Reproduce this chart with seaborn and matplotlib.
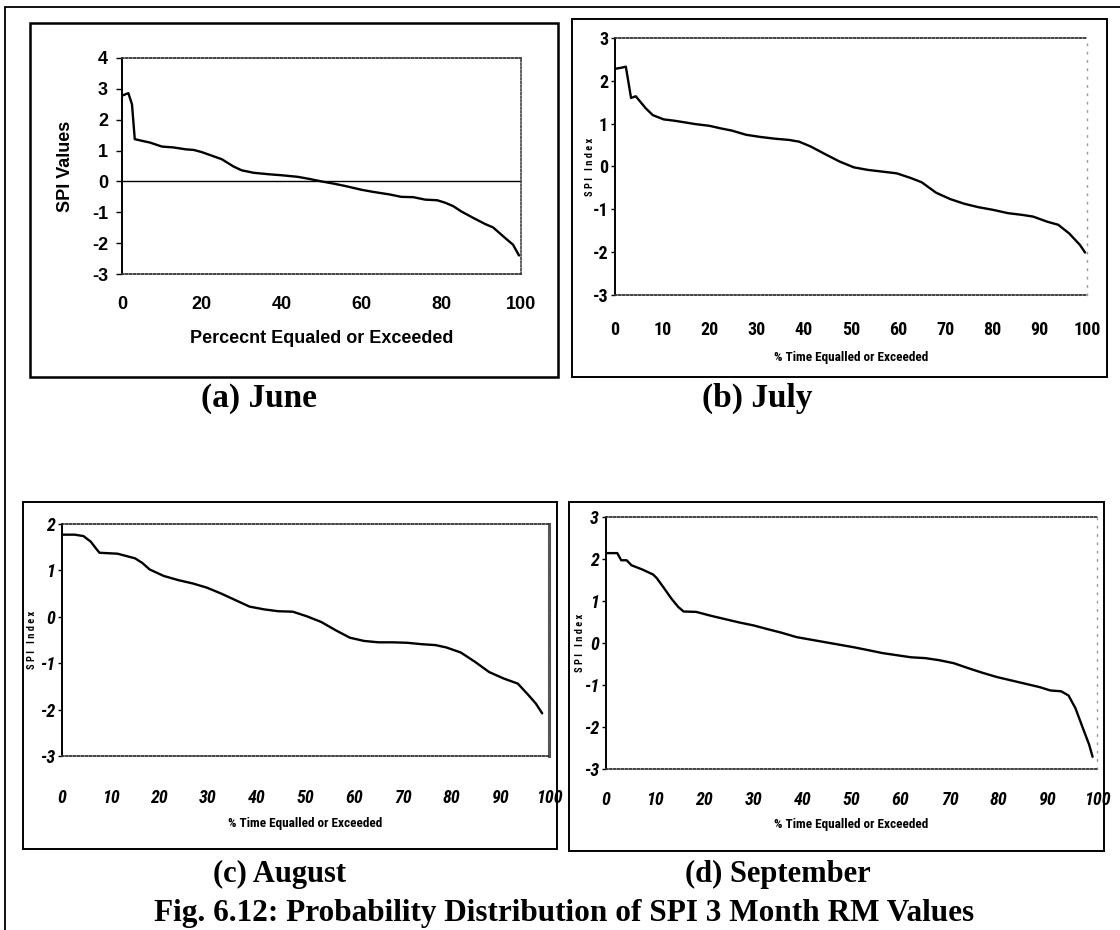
import numpy as np
import pandas as pd
import matplotlib
matplotlib.use("Agg")
import matplotlib.pyplot as plt
from matplotlib import font_manager
from matplotlib.patches import Rectangle
from matplotlib.lines import Line2D
import seaborn as sns

# ---------------------------------------------------------------------------
# SPI 3-month running-mean values vs. percent of time equalled or exceeded
# ---------------------------------------------------------------------------
june_pct = [0, 1.6, 2.5, 3.2, 5.2, 7, 10, 13, 16, 18, 20, 25, 28, 30, 33, 37,
            40, 44, 47, 50, 53, 56, 60, 63, 67, 70, 73, 76, 79, 81, 83, 85,
            88, 91, 93, 96, 98, 99.5]
june_spi = [2.78, 2.86, 2.5, 1.37, 1.31, 1.26, 1.13, 1.10, 1.04, 1.02, 0.95,
            0.72, 0.48, 0.36, 0.28, 0.23, 0.20, 0.15, 0.08, 0.0, -0.07, -0.15,
            -0.27, -0.34, -0.42, -0.50, -0.51, -0.59, -0.61, -0.69, -0.80,
            -0.97, -1.18, -1.38, -1.49, -1.83, -2.05, -2.40]

july_pct = [0, 1.5, 2.3, 3.4, 4.4, 6.5, 8, 10.3, 12.5, 14.8, 17, 20, 22.4,
            24.7, 27.8, 30.8, 33.8, 36.9, 39, 41.4, 44.5, 47.5, 50.6, 53.6,
            56.7, 59.7, 62.7, 65, 68, 71, 74, 77, 80, 83.3, 86.3, 88.6, 91.6,
            93.9, 96.2, 98.5, 99.6]
july_spi = [2.28, 2.31, 2.33, 1.60, 1.64, 1.36, 1.20, 1.10, 1.07, 1.03, 0.99,
            0.95, 0.89, 0.84, 0.74, 0.69, 0.65, 0.62, 0.58, 0.47, 0.29, 0.12,
            -0.02, -0.08, -0.12, -0.16, -0.27, -0.37, -0.61, -0.76, -0.87,
            -0.95, -1.01, -1.09, -1.13, -1.17, -1.29, -1.36, -1.56, -1.83,
            -2.01]

aug_pct = [0, 2.6, 4.4, 5.9, 7, 7.7, 11.4, 15, 16.5, 18, 20.9, 23.9, 26.8,
           29.7, 32.7, 35.6, 38.5, 41.5, 44.4, 47.4, 50.3, 53.2, 56.2, 59.1,
           62, 65, 67.9, 70.9, 73.8, 76.7, 78.9, 81.9, 84.8, 87.7, 90.7, 93.6,
           95.8, 97.3, 98.6]
aug_spi = [1.77, 1.77, 1.74, 1.62, 1.47, 1.38, 1.36, 1.26, 1.16, 1.02, 0.88,
           0.79, 0.72, 0.63, 0.50, 0.36, 0.22, 0.16, 0.12, 0.11, 0.01, -0.11,
           -0.29, -0.45, -0.52, -0.55, -0.55, -0.56, -0.59, -0.61, -0.66,
           -0.77, -0.97, -1.19, -1.33, -1.44, -1.69, -1.87, -2.08]

sep_pct = [0, 2.3, 3.1, 4.2, 5.2, 7.4, 9.6, 10.3, 11.8, 13.3, 14.7, 15.8,
           18.4, 21.3, 24.2, 27.1, 30, 32.9, 35.9, 38.8, 41.7, 44.6, 47.5,
           50.4, 53.4, 56.3, 59.2, 62.1, 65, 67.9, 70.8, 73.8, 76.7, 79.6,
           82.5, 85.4, 88.3, 90.5, 92.7, 94.2, 95.6, 97.1, 98.4, 99.1]
sep_spi = [2.14, 2.14, 1.97, 1.97, 1.85, 1.75, 1.63, 1.55, 1.31, 1.06, 0.86,
           0.75, 0.74, 0.65, 0.57, 0.49, 0.42, 0.33, 0.24, 0.14, 0.08, 0.02,
           -0.04, -0.10, -0.17, -0.24, -0.29, -0.34, -0.36, -0.41, -0.48,
           -0.60, -0.71, -0.81, -0.89, -0.97, -1.05, -1.13, -1.15, -1.25,
           -1.55, -2.02, -2.42, -2.71]

june_yticks = [4, 3, 2, 1, 0, -1, -2, -3]
july_yticks = [3, 2, 1, 0, -1, -2, -3]
aug_yticks = [2, 1, 0, -1, -2, -3]
sep_yticks = [3, 2, 1, 0, -1, -2, -3]
june_xticks = [0, 20, 40, 60, 80, 100]
decade_xticks = [0, 10, 20, 30, 40, 50, 60, 70, 80, 90, 100]

captions = ["(a) June", "(b) July", "(c) August", "(d) September"]
fig_title = "Fig. 6.12: Probability Distribution of SPI 3 Month RM Values"

# ---------------------------------------------------------------------------
sns.set_theme(style="white")
plt.rcParams["font.family"] = ["Liberation Sans", "DejaVu Sans"]
plt.rcParams["axes.unicode_minus"] = False
for key in ("text.color", "axes.labelcolor", "xtick.color", "ytick.color"):
    plt.rcParams[key] = "black"


def pick_narrow():
    names = {f.name for f in font_manager.fontManager.ttflist}
    for cand in ["Liberation Sans Narrow", "Arial Narrow", "Roboto Condensed",
                 "Open Sans Condensed", "Noto Sans Condensed"]:
        if cand in names:
            return cand, "normal"
    for f in font_manager.fontManager.ttflist:
        if f.name == "DejaVu Sans" and f.stretch == "condensed":
            return "DejaVu Sans", "condensed"
    return "Liberation Sans", "normal"


NARROW, NARROW_STRETCH = pick_narrow()

W, H = 1120, 930
fig = plt.figure(figsize=(W / 100, H / 100), dpi=100)
fig.patch.set_facecolor("white")


def box(x0, y0, x1, y1):
    """Pixel box (origin top-left) -> figure-fraction rectangle."""
    return [x0 / W, 1 - y1 / H, (x1 - x0) / W, (y1 - y0) / H]


def frame(x0, y0, x1, y1, lw=1.4):
    fig.add_artist(Rectangle((x0 / W, 1 - y1 / H), (x1 - x0) / W, (y1 - y0) / H,
                             transform=fig.transFigure, fill=False,
                             edgecolor="black", linewidth=lw))


# page rules
fig.add_artist(Line2D([5 / W, 1.0], [1 - 7 / H, 1 - 7 / H], transform=fig.transFigure,
                      color="black", lw=1.3))
fig.add_artist(Line2D([5 / W, 5 / W], [0.0, 1 - 7 / H], transform=fig.transFigure,
                      color="black", lw=1.3))

# panel frames
frame(30, 23, 558, 377, lw=1.8)
frame(572, 19, 1107, 377)
frame(23, 502, 557, 849)
frame(569, 502, 1104, 851)

DOT = (0, (1, 1.2))
SPARSE = (0, (1, 5))


def style_axes(ax, ylim, yticks, xticks, top_ls, right_ls, bottom_ls,
               right_color="#444444", right_lw=1.2):
    ax.set_xlim(0, 100)
    ax.set_ylim(*ylim)
    ax.set_yticks(yticks)
    ax.set_xticks(xticks)
    ax.set_facecolor("white")
    ax.grid(False)
    ax.spines["left"].set_color("black")
    ax.spines["left"].set_linewidth(1.4)
    for side, ls in (("top", top_ls), ("bottom", bottom_ls)):
        ax.spines[side].set_linestyle(ls)
        ax.spines[side].set_color("#333333")
        ax.spines[side].set_linewidth(1.3)
    ax.spines["right"].set_linestyle(right_ls)
    ax.spines["right"].set_color(right_color)
    ax.spines["right"].set_linewidth(right_lw)


def draw_curve(ax, pct, spi):
    df = pd.DataFrame({"pct": pct, "spi": spi})
    sns.lineplot(data=df, x="pct", y="spi", ax=ax, color="black", lw=1.7,
                 sort=False, estimator=None)
    ax.set_xlabel("")
    ax.set_ylabel("")


# ---------------- (a) June ----------------
ax_a = fig.add_axes(box(122, 58, 521, 274))
draw_curve(ax_a, june_pct, june_spi)
style_axes(ax_a, (-3, 4), june_yticks, june_xticks, DOT, DOT, DOT)
ax_a.axhline(0, color="black", lw=1.0, zorder=1)
ax_a.tick_params(axis="y", length=4, width=1, direction="out", pad=6,
                 left=True, labelsize=13, color="black")
ax_a.tick_params(axis="x", length=0, pad=16, labelsize=13)
for lab in ax_a.get_xticklabels() + ax_a.get_yticklabels():
    lab.set_fontweight("bold")
    lab.set_family("Liberation Sans")
ax_a.set_xlabel("Percecnt Equaled or Exceeded", fontsize=13, fontweight="bold",
                family="Liberation Sans")
ax_a.xaxis.set_label_coords(0.5, (274 - 338) / 216)
ax_a.xaxis.label.set_va("center")
ax_a.set_ylabel("SPI Values", fontsize=13, fontweight="bold", family="Liberation Sans")
ax_a.yaxis.set_label_coords((66 - 122) / 399, 0.5)
ax_a.yaxis.label.set_va("center")


def narrow_panel(ax, ylim, yticks, italic, xlabel_y, ylabel_x, xpad, ypad,
                 right_ls, right_color, right_lw):
    style_axes(ax, ylim, yticks, decade_xticks, DOT, right_ls, DOT,
               right_color=right_color, right_lw=right_lw)
    ax.tick_params(axis="y", length=3, width=1, direction="out", pad=ypad,
                   left=True, labelsize=13, color="black")
    ax.tick_params(axis="x", length=0, pad=xpad, labelsize=13)
    style = "italic" if italic else "normal"
    for lab in ax.get_xticklabels() + ax.get_yticklabels():
        lab.set_family(NARROW)
        lab.set_stretch(NARROW_STRETCH)
        lab.set_fontweight("bold")
        lab.set_fontstyle(style)
    ax.set_xlabel("% Time Equalled or Exceeded", fontsize=9.5, fontweight="bold",
                  family=NARROW, fontstretch=NARROW_STRETCH)
    ax.xaxis.set_label_coords(0.5, xlabel_y)
    ax.xaxis.label.set_va("center")
    ax.set_ylabel("S P I   I n d e x", fontsize=7.5, fontweight="bold",
                  family=NARROW, fontstretch=NARROW_STRETCH)
    ax.yaxis.set_label_coords(ylabel_x, 0.5)
    ax.yaxis.label.set_va("center")


# ---------------- (b) July ----------------
ax_b = fig.add_axes(box(615, 38, 1087, 295))
draw_curve(ax_b, july_pct, july_spi)
narrow_panel(ax_b, (-3, 3), july_yticks, False, (295 - 358) / 257,
             (590 - 615) / 472, 19, 2, SPARSE, "#999999", 1.0)

# ---------------- (c) August ----------------
ax_c = fig.add_axes(box(62, 524, 549, 756))
draw_curve(ax_c, aug_pct, aug_spi)
narrow_panel(ax_c, (-3, 2), aug_yticks, True, (756 - 823) / 232,
             (32 - 62) / 487, 24, 2, (0, (1, 0.6)), "#555555", 2.2)

# ---------------- (d) September ----------------
ax_d = fig.add_axes(box(606, 517, 1097, 769))
draw_curve(ax_d, sep_pct, sep_spi)
narrow_panel(ax_d, (-3, 3), sep_yticks, True, (769 - 824) / 252,
             (580 - 606) / 491, 16, 2, SPARSE, "#999999", 1.0)

# ---------------- captions and figure title ----------------
cap_kw = dict(fontweight="bold", family="Liberation Serif", color="black",
              ha="center", va="center")
fig.text(259 / W, 1 - 398 / H, captions[0], fontsize=24, **cap_kw)
fig.text(757 / W, 1 - 398 / H, captions[1], fontsize=24, **cap_kw)
fig.text(280 / W, 1 - 874 / H, captions[2], fontsize=22, **cap_kw)
fig.text(778 / W, 1 - 874 / H, captions[3], fontsize=22, **cap_kw)
fig.text(564 / W, 1 - 913 / H, fig_title, fontsize=22.5, **cap_kw)

fig.savefig("out.png", dpi=100, facecolor="white")
